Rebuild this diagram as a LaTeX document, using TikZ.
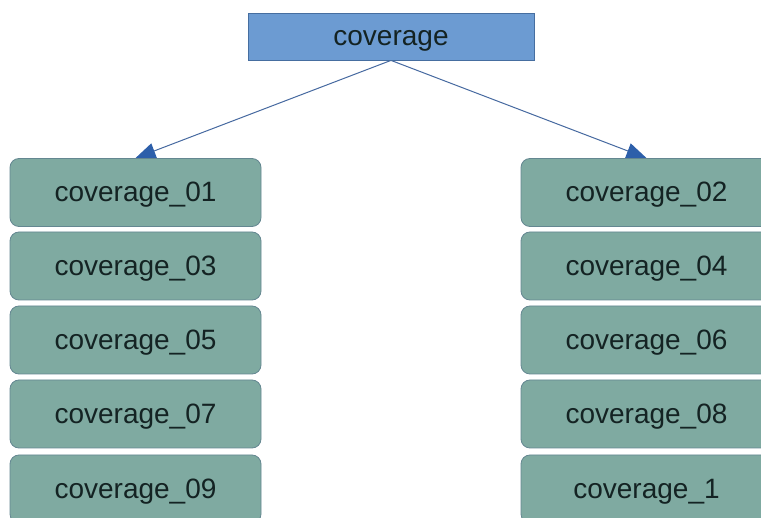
\documentclass[tikz,border=0pt]{standalone}
\usepackage{fontspec}
\setmainfont{Liberation Sans}
\usetikzlibrary{arrows.meta,backgrounds}
\definecolor{topfill}{RGB}{108,155,210}
\definecolor{topdraw}{RGB}{70,110,160}
\definecolor{tealfill}{RGB}{127,170,161}
\definecolor{tealdraw}{RGB}{100,135,145}
\definecolor{linec}{RGB}{70,105,160}
\definecolor{arrowc}{RGB}{45,95,170}
\definecolor{txt}{RGB}{20,35,35}
\tikzset{
  topbox/.style={draw=topdraw, line width=0.8pt, fill=topfill, minimum width=286pt, minimum height=47pt, inner sep=0pt, text height=20pt, text depth=2.5pt, text=txt, font=\fontsize{28}{34}\selectfont},
  covbox/.style={draw=tealdraw, line width=0.8pt, fill=tealfill, rounded corners=9pt, minimum width=251pt, minimum height=68pt, inner sep=0pt, text height=20pt, text depth=1.8pt, text=txt, font=\fontsize{28}{34}\selectfont},
  conn/.style={draw=linec, line width=1pt, -{Triangle[length=20pt,width=16pt,color=arrowc]}}
}
\begin{document}
\begin{tikzpicture}[x=1pt,y=-1pt]
\useasboundingbox (0,0) rectangle (761,518);
\node[topbox] (top) at (391,36.5) {coverage};
\node[covbox] (l1) at (135.5,192.5) {coverage\_01};
\node[covbox] (l2) at (135.5,266) {coverage\_03};
\node[covbox] (l3) at (135.5,340) {coverage\_05};
\node[covbox] (l4) at (135.5,414) {coverage\_07};
\node[covbox] (l5) at (135.5,489) {coverage\_09};
\node[covbox] (r1) at (646.5,192.5) {coverage\_02};
\node[covbox] (r2) at (646.5,266) {coverage\_04};
\node[covbox] (r3) at (646.5,340) {coverage\_06};
\node[covbox] (r4) at (646.5,414) {coverage\_08};
\node[covbox] (r5) at (646.5,489) {coverage\_1};
\begin{pgfonlayer}{background}
\fill[white] (0,0) rectangle (761,518);
\draw[conn] (top.south) -- (l1.north);
\draw[conn] (top.south) -- (r1.north);
\end{pgfonlayer}
\end{tikzpicture}
\end{document}
